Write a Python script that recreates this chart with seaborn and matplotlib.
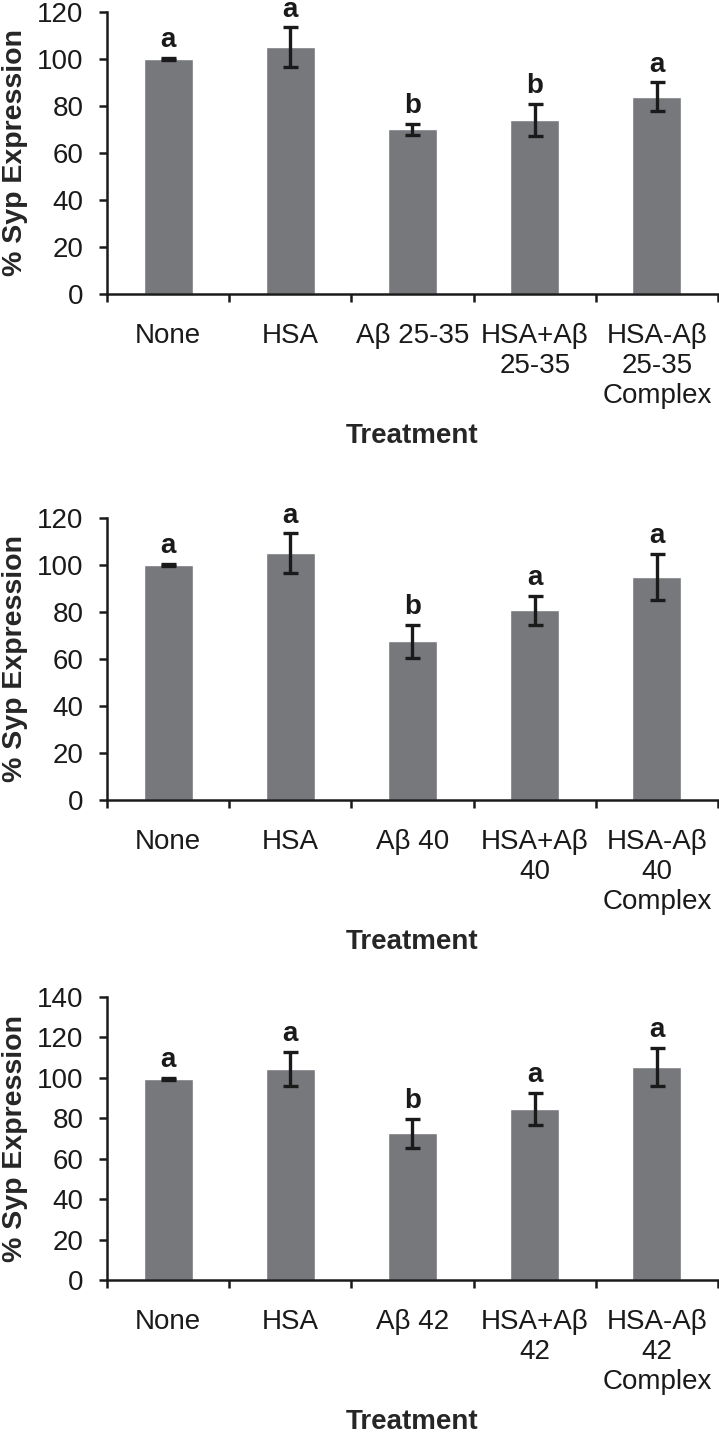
import numpy as np
import matplotlib
matplotlib.use('Agg')
import matplotlib.pyplot as plt
import seaborn as sns

# values
treat1 = ['None', 'HSA', 'Aβ 25-35', 'HSA+Aβ\n25-35', 'HSA-Aβ\n25-35\nComplex']
mean1 = [100, 105, 70, 74, 84]
err1 = [0.4, 8.4, 2.4, 7, 6]
letters1 = ['a', 'a', 'b', 'b', 'a']

treat2 = ['None', 'HSA', 'Aβ 40', 'HSA+Aβ\n40', 'HSA-Aβ\n40\nComplex']
mean2 = [100, 105, 67.5, 80.7, 95]
err2 = [0.4, 8.4, 7, 6.2, 9.7]
letters2 = ['a', 'a', 'b', 'a', 'a']

treat3 = ['None', 'HSA', 'Aβ 42', 'HSA+Aβ\n42', 'HSA-Aβ\n42\nComplex']
mean3 = [99.5, 104.3, 72.5, 84.5, 105.5]
err3 = [0.4, 8.5, 7, 8, 9.5]
letters3 = ['a', 'a', 'b', 'a', 'a']

ymax = [120, 120, 140]

sns.set_style('ticks')
plt.rcParams['font.family'] = ['Liberation Sans', 'DejaVu Sans']
plt.rcParams['text.color'] = '#1a1a1a'

bar_color = '#77787c'
ink = '#1a1a1a'

fig = plt.figure(figsize=(7.19, 14.36), dpi=100)

# axes boxes in figure fractions
boxes = [[0.1488, 0.7953, 0.8498, 0.1964],
         [0.1488, 0.4429, 0.8498, 0.1964],
         [0.1488, 0.1086, 0.8498, 0.1971]]

panels = [(treat1, mean1, err1, letters1),
          (treat2, mean2, err2, letters2),
          (treat3, mean3, err3, letters3)]

for i, (treat, mean, err, letters) in enumerate(panels):
    ax = fig.add_axes(boxes[i])
    sns.barplot(x=treat, y=mean, color=bar_color, saturation=1,
                width=0.4, errorbar=None, ax=ax)
    ax.errorbar(np.arange(len(mean)), mean, yerr=err, fmt='none',
                ecolor=ink, elinewidth=2.4, capsize=5.4, capthick=2.4)

    # significance letters above the error bars
    for j, lab in enumerate(letters):
        ax.annotate(lab, xy=(j, mean[j] + err[j]), xytext=(0, 3.5),
                    textcoords='offset points', ha='center', va='bottom',
                    fontsize=20, fontweight='bold', annotation_clip=False)

    ax.set_xlim(-0.5, len(mean) - 0.5)
    ax.set_ylim(0, ymax[i])
    ax.set_yticks(np.arange(0, ymax[i] + 1, 20))

    # category boundary ticks like the original
    ax.set_xticks(np.arange(-0.5, len(mean)), minor=True)
    ax.tick_params(axis='x', which='major', length=0, pad=21, labelsize=20, labelcolor=ink)
    ax.tick_params(axis='x', which='minor', length=6, width=1.8, direction='out', color=ink)
    ax.tick_params(axis='y', length=6, width=1.8, direction='out', pad=11,
                   labelsize=20, color=ink, labelcolor=ink)

    sns.despine(ax=ax)
    for side in ['left', 'bottom']:
        ax.spines[side].set_linewidth(1.8)
        ax.spines[side].set_color(ink)

    ax.set_ylabel('% Syp Expression', fontsize=20.5, fontweight='bold')
    ax.yaxis.set_label_coords(-0.13, 0.5)
    ax.set_xlabel('Treatment', fontsize=20, fontweight='bold', labelpad=10)

plt.savefig('out.png', dpi=100)
